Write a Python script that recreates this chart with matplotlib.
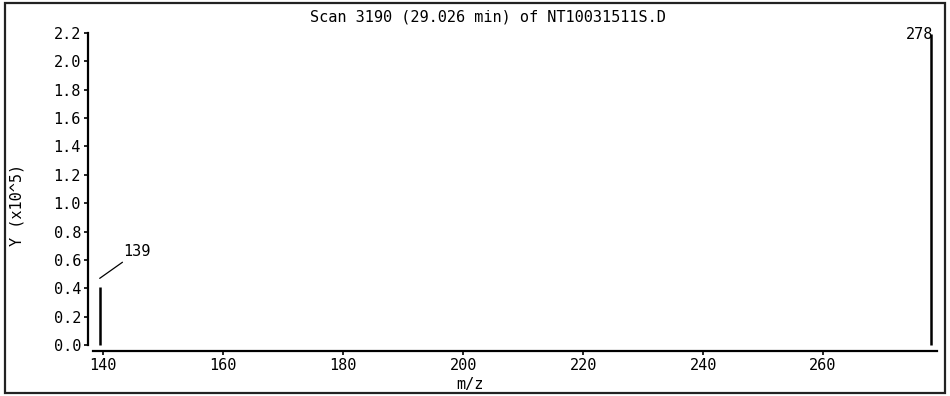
import matplotlib
matplotlib.use('Agg')
import matplotlib.pyplot as plt
from matplotlib.patches import Rectangle
from matplotlib.ticker import MultipleLocator

# data (intensity in units of 10^5)
mz = [139.4, 278.0]
intensity = [0.41, 2.19]
peak_labels = ['139', '278']
title_text = 'Scan 3190 (29.026 min) of NT10031511S.D'

font = 'DejaVu Sans Mono'
fs = 11
W, H = 950, 396

fig = plt.figure(figsize=(9.5, 3.96), dpi=100)
ax = fig.add_axes([88 / W, 45 / H, (937 - 88) / W, (351 - 33) / H])

# spectrum lines
ax.vlines(mz, 0, intensity, color='black', linewidth=1.8)

ax.set_xlim(137.45, 279.0)
ax.set_ylim(-0.0423, 2.2)

ax.spines['top'].set_visible(False)
ax.spines['right'].set_visible(False)
ax.spines['left'].set_bounds(0, 2.2)
ax.spines['bottom'].set_bounds(138.3, 279.0)
for s in ('left', 'bottom'):
    ax.spines[s].set_linewidth(1.6)

ax.xaxis.set_major_locator(MultipleLocator(20))
ax.yaxis.set_major_locator(MultipleLocator(0.2))
ax.set_xticks([140, 160, 180, 200, 220, 240, 260])
ax.set_yticklabels([f'{v:.1f}' for v in ax.get_yticks()])
ax.tick_params(direction='out', length=3, width=1.2, pad=2, labelsize=fs)
for lab in ax.get_xticklabels() + ax.get_yticklabels():
    lab.set_fontfamily(font)

# peak labels
ax.annotate(peak_labels[0], xy=(mz[0], intensity[0] + 0.06), xytext=(17, 19),
            textcoords='offset points', ha='left', va='center',
            fontsize=fs, family=font,
            arrowprops=dict(arrowstyle='-', color='black', lw=0.9,
                            shrinkA=0, shrinkB=0))
ax.annotate(peak_labels[1], xy=(mz[1], intensity[1]), xytext=(-8, 0),
            textcoords='offset points', ha='center', va='center',
            fontsize=fs, family=font)

# texts
fig.text(488 / W, 1 - 17 / H, title_text, ha='center', va='center',
         fontsize=fs, family=font)
fig.text(470 / W, 1 - 385 / H, 'm/z', ha='center', va='center',
         fontsize=fs, family=font)
fig.text(17 / W, 1 - 205 / H, 'Y (x10^5)', ha='center', va='center',
         rotation=90, fontsize=fs, family=font)

# frame around figure
fig.patches.append(Rectangle((5 / W, 3 / H), 940 / W, 390 / H,
                             transform=fig.transFigure, fill=False,
                             edgecolor='#222222', linewidth=1.6))

fig.savefig('out.png', dpi=100)
